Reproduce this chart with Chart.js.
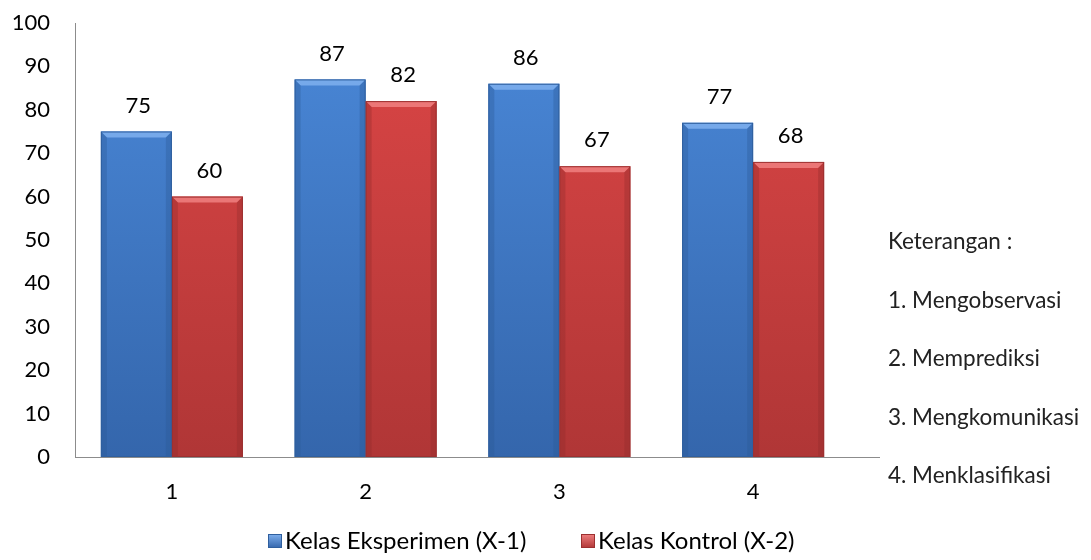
<!DOCTYPE html>
<html>
<head>
<meta charset="utf-8">
<script src="https://cdn.jsdelivr.net/npm/chart.js@4"></script>
<style>
  html, body { margin: 0; padding: 0; background: #ffffff; }
  #wrap { position: relative; width: 1091px; height: 560px; }
</style>
</head>
<body>
<div id="wrap"><canvas id="c" width="1091" height="560"></canvas></div>
<script>
const categories = ["1", "2", "3", "4"];
const seriesNames = ["Kelas Eksperimen (X-1)", "Kelas Kontrol (X-2)"];
const eksperimen = [75, 87, 86, 77];
const kontrol = [60, 82, 67, 68];
const yTicks = [0, 10, 20, 30, 40, 50, 60, 70, 80, 90, 100];
const keterangan = ["Keterangan :", "1. Mengobservasi", "2. Memprediksi", "3. Mengkomunikasi", "4. Menklasifikasi"];

const FONT = "Lato, 'Open Sans', sans-serif";
const palettes = [
  { top: '#4a88d8', bottom: '#3466ac', light: '#7fb0ee', dark: '#2b5896', edge: '#2f5f9e' },
  { top: '#dc4646', bottom: '#b03636', light: '#f08080', dark: '#8f2a2a', edge: '#9c3030' }
];

function grad(idx) {
  return function(ctx) {
    const chart = ctx.chart;
    const ca = chart.chartArea;
    const p = palettes[idx];
    if (!ca) return p.top;
    const g = chart.ctx.createLinearGradient(0, ca.top, 0, ca.bottom);
    g.addColorStop(0, p.top);
    g.addColorStop(1, p.bottom);
    return g;
  };
}

const bevelPlugin = {
  id: 'bevel',
  afterDatasetsDraw(chart) {
    const ctx = chart.ctx;
    chart.data.datasets.forEach((ds, di) => {
      const meta = chart.getDatasetMeta(di);
      const p = palettes[di];
      meta.data.forEach((bar) => {
        const w = bar.width, l = bar.x - w / 2, r = bar.x + w / 2, t = bar.y, b = bar.base;
        const bv = 6;
        ctx.save();
        ctx.fillStyle = p.light;
        ctx.globalAlpha = 0.85;
        ctx.beginPath();
        ctx.moveTo(l, t); ctx.lineTo(r, t); ctx.lineTo(r - bv, t + bv); ctx.lineTo(l + bv, t + bv); ctx.closePath();
        ctx.fill();
        ctx.globalAlpha = 0.35;
        ctx.fillStyle = p.dark;
        ctx.beginPath();
        ctx.moveTo(l, t); ctx.lineTo(l + bv, t + bv); ctx.lineTo(l + bv, b); ctx.lineTo(l, b); ctx.closePath();
        ctx.fill();
        ctx.beginPath();
        ctx.moveTo(r, t); ctx.lineTo(r - bv, t + bv); ctx.lineTo(r - bv, b); ctx.lineTo(r, b); ctx.closePath();
        ctx.fill();
        ctx.globalAlpha = 1;
        ctx.strokeStyle = p.edge;
        ctx.lineWidth = 1;
        ctx.strokeRect(l + 0.5, t + 0.5, w - 1, b - t - 1);
        ctx.restore();
      });
    });
  }
};

const labelPlugin = {
  id: 'valueLabels',
  afterDraw(chart) {
    const ctx = chart.ctx;
    ctx.save();
    ctx.font = "22px " + FONT;
    ctx.fillStyle = '#000';
    ctx.textAlign = 'center';
    ctx.textBaseline = 'middle';
    chart.data.datasets.forEach((ds, di) => {
      const meta = chart.getDatasetMeta(di);
      meta.data.forEach((bar, i) => {
        ctx.fillText(String(ds.data[i]), bar.x + 2, bar.y - 26);
      });
    });
    const ca = chart.chartArea;
    ctx.strokeStyle = '#8c8c8c';
    ctx.lineWidth = 1;
    ctx.beginPath();
    ctx.moveTo(ca.right, Math.round(ca.bottom) + 0.5);
    ctx.lineTo(880, Math.round(ca.bottom) + 0.5);
    ctx.stroke();
    // legend
    const items = [{ x: 268, i: 0 }, { x: 581, i: 1 }];
    const ly = 541;
    const sz = 14;
    items.forEach(it => {
      const p = palettes[it.i];
      const g = ctx.createLinearGradient(0, ly - sz / 2, 0, ly + sz / 2);
      g.addColorStop(0, p.light);
      g.addColorStop(1, p.bottom);
      ctx.fillStyle = g;
      ctx.fillRect(it.x, ly - sz / 2, sz, sz);
      ctx.strokeStyle = p.edge;
      ctx.strokeRect(it.x + 0.5, ly - sz / 2 + 0.5, sz - 1, sz - 1);
      ctx.fillStyle = '#000';
      ctx.font = "24px " + FONT;
      ctx.textAlign = 'left';
      ctx.textBaseline = 'middle';
      ctx.fillText(chart.data.datasets[it.i].label, it.x + sz + 3, ly);
    });
    // keterangan
    ctx.font = "22.5px " + FONT;
    ctx.fillStyle = '#222';
    ctx.textAlign = 'left';
    ctx.textBaseline = 'middle';
    keterangan.forEach((t, k) => {
      ctx.fillText(t, 888, 242 + k * 58.5);
    });
    ctx.restore();
  }
};

new Chart(document.getElementById('c'), {
  type: 'bar',
  data: {
    labels: categories,
    datasets: [
      { label: seriesNames[0], data: eksperimen, backgroundColor: grad(0), borderWidth: 0 },
      { label: seriesNames[1], data: kontrol, backgroundColor: grad(1), borderWidth: 0 }
    ]
  },
  options: {
    responsive: false,
    animation: false,
    events: [],
    layout: { padding: { left: 0, right: 241, top: 23, bottom: 0 } },
    plugins: { legend: { display: false }, tooltip: { enabled: false } },
    datasets: { bar: { categoryPercentage: 0.733, barPercentage: 1.0 } },
    scales: {
      x: {
        grid: { display: false, drawTicks: false },
        border: { display: true, color: '#8c8c8c', width: 1 },
        ticks: { color: '#000', font: { family: FONT, size: 22 }, padding: 22 },
        afterFit(scale) { scale.height = 103; scale.paddingLeft = 0; scale.paddingRight = 0; }
      },
      y: {
        min: 0, max: 100,
        afterBuildTicks(scale) { scale.ticks = yTicks.map(v => ({ value: v })); },
        grid: { display: false, drawTicks: false },
        border: { display: true, color: '#8c8c8c', width: 1 },
        ticks: { color: '#000', font: { family: FONT, size: 22 }, padding: 25 },
        afterFit(scale) { scale.width = 75; scale.paddingTop = 0; scale.paddingBottom = 0; }
      }
    }
  },
  plugins: [bevelPlugin, labelPlugin]
});
</script>
</body>
</html>
